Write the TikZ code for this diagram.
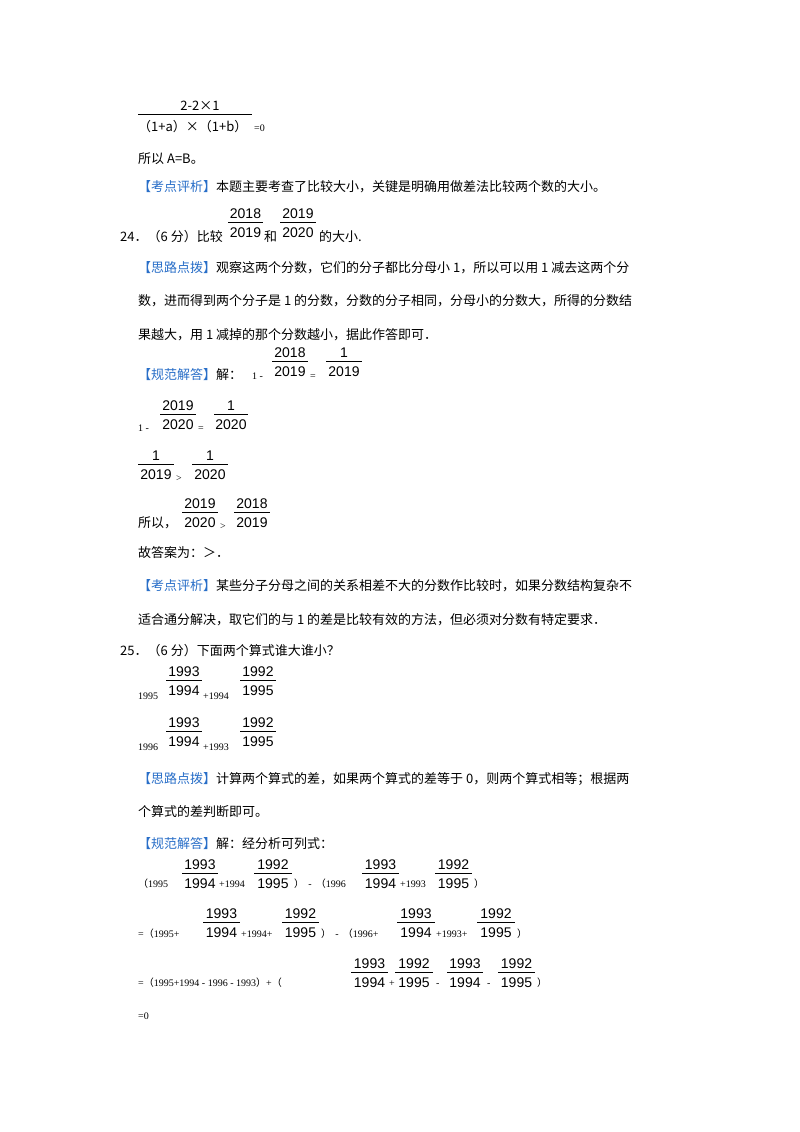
\documentclass[tikz,border=0pt]{standalone}
\usepackage{fontspec}
\setmainfont{Liberation Serif}
\newfontfamily\cjk{Noto Sans CJK SC}
\newfontfamily\dig{Liberation Sans}
\definecolor{kblue}{RGB}{40,110,200}
\tikzset{x=1pt,y=-1pt,
 txt/.style={anchor=base west,inner sep=0,font=\fontsize{13}{13}\cjk},
 sm/.style={anchor=base west,inner sep=0,font=\fontsize{10}{10}\selectfont},
 fn/.style={inner sep=0,font=\fontsize{14}{14}\dig},
 fl/.style={line width=0.8pt}}
\newcommand\Tx[3]{\node[txt] at (#1,#2) {#3};}
\newcommand\Sm[3]{\node[sm] at (#1,#2) {#3};}
\newcommand\Fr[5]{\draw[fl] (#1,#3) -- (#2,#3);
 \node[fn,anchor=base] at ({(#1+#2)/2},#3-4) {#4};
 \node[fn,anchor=base] at ({(#1+#2)/2},#3+15) {#5};}
\newcommand\Bl[1]{{\color{kblue}#1}}
\newcommand\Lp{{\cjk （}}
\newcommand\Rp{{\cjk ）}}
\begin{document}
\begin{tikzpicture}
\useasboundingbox[fill=white] (0,0) rectangle (800,1132);
% top
\draw[fl] (138,114) -- (252,114);
\node[txt,anchor=base] at (200,110) {2-2×1};
\Tx{138}{131}{（1+a）×（1+b）}
\Sm{254}{131}{=0}
\Tx{138}{163}{所以 \textit{A}=\textit{B}。}
\Tx{138}{191}{\Bl{【考点评析】}本题主要考查了比较大小，关键是明确用做差法比较两个数的大小。}
% 24
\Tx{120}{241}{24．（6 分）比较}
\Fr{228}{263}{222}{2018}{2019}
\Tx{264}{241}{和}
\Fr{280}{316}{222}{2019}{2020}
\Tx{319}{241}{的大小.}
\Tx{138}{272}{\Bl{【思路点拨】}观察这两个分数，它们的分子都比分母小 1，所以可以用 1 减去这两个分}
\Tx{138}{305}{数，进而得到两个分子是 1 的分数，分数的分子相同，分母小的分数大，所得的分数结}
\Tx{138}{339}{果越大，用 1 减掉的那个分数越小，据此作答即可．}
\Tx{138}{379}{\Bl{【规范解答】}解：}
\Sm{252}{379}{1 -}
\Fr{272}{308}{361}{2018}{2019}
\Sm{310}{379}{=}
\Fr{326}{362}{361}{1}{2019}
\Sm{138}{431}{1 -}
\Fr{160}{196}{414}{2019}{2020}
\Sm{198}{431}{=}
\Fr{214}{248}{414}{1}{2020}
\Fr{138}{174}{464}{1}{2019}
\Sm{176}{481}{>}
\Fr{192}{228}{464}{1}{2020}
\Tx{138}{527}{所以，}
\Fr{182}{218}{512}{2019}{2020}
\Sm{220}{529}{>}
\Fr{234}{270}{512}{2018}{2019}
\Tx{138}{557}{故答案为：＞．}
\Tx{138}{590}{\Bl{【考点评析】}某些分子分母之间的关系相差不大的分数作比较时，如果分数结构复杂不}
\Tx{138}{624}{适合通分解决，取它们的与 1 的差是比较有效的方法，但必须对分数有特定要求．}
% 25
\Tx{120}{655}{25．（6 分）下面两个算式谁大谁小？}
\Sm{138}{699}{1995}
\Fr{166}{202}{680}{1993}{1994}
\Sm{203}{699}{+1994}
\Fr{240}{276}{680}{1992}{1995}
\Sm{138}{750}{1996}
\Fr{166}{202}{731}{1993}{1994}
\Sm{203}{750}{+1993}
\Fr{240}{276}{731}{1992}{1995}
\Tx{138}{783}{\Bl{【思路点拨】}计算两个算式的差，如果两个算式的差等于 0，则两个算式相等；根据两}
\Tx{138}{816}{个算式的差判断即可。}
\Tx{138}{848}{\Bl{【规范解答】}解：经分析可列式：}
% row1
\Sm{138}{887}{\Lp 1995}
\Fr{182}{218}{873}{1993}{1994}
\Sm{219}{887}{+1994}
\Fr{254}{292}{873}{1992}{1995}
\Sm{294}{887}{\Rp\, -\, \Lp 1996}
\Fr{362}{399}{873}{1993}{1994}
\Sm{400}{887}{+1993}
\Fr{435}{472}{873}{1992}{1995}
\Sm{474}{887}{\Rp}
% row2
\Sm{138}{937}{=\Lp 1995+}
\Fr{203}{240}{922}{1993}{1994}
\Sm{241}{937}{+1994+}
\Fr{282}{319}{922}{1992}{1995}
\Sm{321}{937}{\Rp\, -\, \Lp 1996+}
\Fr{397}{435}{922}{1993}{1994}
\Sm{436}{937}{+1993+}
\Fr{477}{515}{922}{1992}{1995}
\Sm{517}{937}{\Rp}
% row3
\Sm{138}{986}{=\Lp 1995+1994 - 1996 - 1993\Rp +\Lp}
\Fr{351}{388}{972}{1993}{1994}
\Sm{389}{986}{+}
\Fr{395}{433}{972}{1992}{1995}
\Sm{436}{986}{-}
\Fr{447}{483}{972}{1993}{1994}
\Sm{487}{986}{-}
\Fr{498}{535}{972}{1992}{1995}
\Sm{537}{986}{\Rp}
\Sm{138}{1019}{=0}
\end{tikzpicture}
\end{document}
